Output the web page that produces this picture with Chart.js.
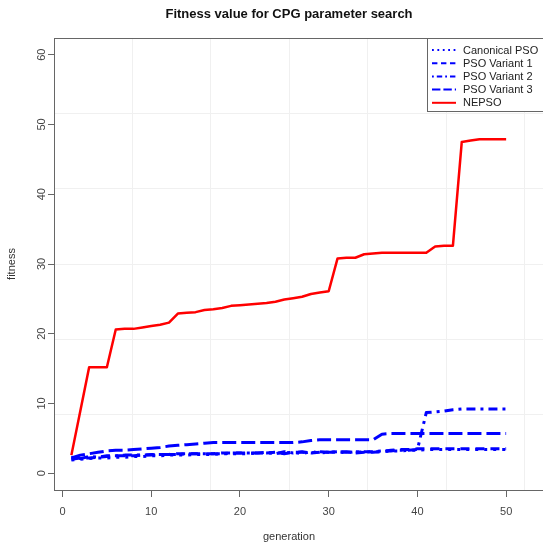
<!DOCTYPE html>
<html>
<head>
<meta charset="utf-8">
<script src="https://cdn.jsdelivr.net/npm/chart.js@4.4.1/dist/chart.umd.min.js"></script>
<style>
  html, body { margin: 0; padding: 0; background: #fff; overflow: hidden; }
  #wrap { width: 578px; height: 544px; }
</style>
</head>
<body>
<div id="wrap"><canvas id="fitnessChart" width="578" height="544"></canvas></div>
<script>
// generations on the x axis
var generation = [1,2,3,4,5,6,7,8,9,10,11,12,13,14,15,16,17,18,19,20,
  21,22,23,24,25,26,27,28,29,30,31,32,33,34,35,36,37,38,39,40,
  41,42,43,44,45,46,47,48,49,50];

// best fitness per generation
var canonicalPSO = [1.9,2.0,2.1,2.2,2.2,2.3,2.3,2.4,2.4,2.5, 2.5,2.6,2.6,2.6,2.7,2.7,2.7,2.8,2.8,2.8,
  2.8,2.9,2.9,2.9,2.9,3.0,2.8,3.1,2.9,3.0, 3.1,2.9,3.1,3.0,3.1,3.1,3.2,3.2,3.3,3.3,
  3.4,3.4,3.4,3.4,3.4,3.4,3.4,3.4,3.4,3.4];
var psoVariant1 = [2.0,2.2,2.2,2.3,2.4,2.5,2.5,2.5,2.6,2.6, 2.7,2.7,2.8,2.8,2.8,2.8,2.8,2.9,2.9,2.9,
  2.9,2.9,2.9,3.0,2.8,3.0,3.0,2.9,3.0,3.0, 3.0,3.1,2.9,3.0,3.0,3.1,3.3,3.4,3.4,3.5,
  3.5,3.5,3.5,3.5,3.5,3.5,3.5,3.5,3.5,3.5];
var psoVariant2 = [2.3,2.1,2.4,2.3,2.5,2.5,2.6,2.6,2.6,2.7, 2.7,2.7,2.7,2.8,2.8,2.8,2.8,2.8,2.9,2.9,
  2.9,2.9,3.0,2.8,3.1,2.9,3.1,2.9,3.1,3.0, 3.1,3.0,3.1,3.1,3.1,3.2,3.2,3.3,3.3,3.4,
  8.7,8.8,8.9,9.1,9.2,9.2,9.2,9.2,9.2,9.2];
var psoVariant3 = [2.2,2.6,2.8,3.0,3.2,3.3,3.3,3.4,3.5,3.6, 3.7,3.9,4.0,4.1,4.2,4.3,4.4,4.4,4.4,4.4,
  4.4,4.4,4.4,4.4,4.4,4.4,4.5,4.7,4.8,4.8, 4.8,4.8,4.8,4.8,4.8,5.6,5.7,5.7,5.7,5.7,
  5.7,5.7,5.7,5.7,5.7,5.7,5.7,5.7,5.7,5.7];
var nepso = [2.6,8.9,15.2,15.2,15.2,20.6,20.7,20.7,20.9,21.1, 21.3,21.6,22.9,23.0,23.1,23.4,23.5,23.7,24.0,24.1,
  24.2,24.3,24.4,24.6,24.9,25.1,25.3,25.7,25.9,26.1, 30.8,30.9,30.9,31.4,31.5,31.6,31.6,31.6,31.6,31.6,
  31.6,32.5,32.6,32.6,47.5,47.7,47.9,47.9,47.9,47.9];

var yTicks = [0, 10, 20, 30, 40, 50, 60];
var xTicks = [0, 10, 20, 30, 40, 50];

var FONT = "'Liberation Sans', Arial, sans-serif";

function toPoints(values){
	var pts = [];
	for(var i=0; i<generation.length; ++i){
		pts.push({x: generation[i], y: values[i]});
	}
	return pts;
}

function series(label, values, color, width, dash){
	return {
		label: label,
		data: toPoints(values),
		borderColor: color,
		backgroundColor: color,
		borderWidth: width,
		borderDash: dash,
		borderCapStyle: 'butt',
		borderJoinStyle: 'round',
		pointRadius: 0,
		tension: 0,
		fill: false
	};
}

// box round the plot, R-style legend, x axis label
var rDecor = {
	id: 'rDecor',
	beforeDatasetsDraw: function(chart){
		var ctx = chart.ctx, a = chart.chartArea;
		ctx.save();
		ctx.strokeStyle = '#666';
		ctx.lineWidth = 1;
		ctx.strokeRect(a.left + 0.5, a.top + 0.5, a.right - a.left, a.bottom - a.top);
		ctx.restore();
	},
	afterDraw: function(chart){
		var ctx = chart.ctx, a = chart.chartArea;
		ctx.save();
		// legend box (top right, running off the picture like the original)
		var bx = 427, by = a.top, bw = 200, bh = 73;
		ctx.fillStyle = '#fff';
		ctx.fillRect(bx, by, bw, bh);
		ctx.strokeStyle = '#666';
		ctx.lineWidth = 1;
		ctx.strokeRect(bx + 0.5, by + 0.5, bw, bh);
		ctx.font = '11px ' + FONT;
		ctx.textBaseline = 'middle';
		ctx.textAlign = 'left';
		chart.data.datasets.forEach(function(ds, i){
			var y = by + 12 + i * 13.2;
			ctx.beginPath();
			ctx.strokeStyle = ds.borderColor;
			ctx.lineWidth = 2;
			ctx.setLineDash(ds.borderDash.map(function(d){ return d * 0.6; }));
			ctx.moveTo(432, y);
			ctx.lineTo(456, y);
			ctx.stroke();
			ctx.setLineDash([]);
			ctx.fillStyle = '#222';
			ctx.fillText(ds.label, 463, y + 0.5);
		});
		// x axis label, centred like R does on the plot region
		ctx.fillStyle = '#333';
		ctx.textAlign = 'center';
		ctx.fillText('generation', 289, 537);
		ctx.restore();
	}
};

var chart = new Chart(document.getElementById('fitnessChart'), {
	type: 'line',
	data: {
		datasets: [
			series('Canonical PSO', canonicalPSO, '#0000ff', 3, [3, 6]),
			series('PSO Variant 1', psoVariant1, '#0000ff', 3, [9, 6]),
			series('PSO Variant 2', psoVariant2, '#0000ff', 3, [3, 5, 9, 5]),
			series('PSO Variant 3', psoVariant3, '#0000ff', 3, [14, 5]),
			series('NEPSO', nepso, '#ff0000', 2.5, [])
		]
	},
	plugins: [rDecor],
	options: {
		responsive: false,
		animation: false,
		layout: { padding: 0 },
		plugins: {
			legend: { display: false },
			tooltip: { enabled: false },
			title: {
				display: true,
				text: 'Fitness value for CPG parameter search',
				color: '#111',
				font: { family: FONT, size: 13, weight: 'bold', lineHeight: 1.2 },
				padding: { top: 7, bottom: 15.4 }
			}
		},
		scales: {
			x: {
				type: 'linear',
				position: 'bottom',
				min: -0.96,
				max: 58.1,
				afterFit: function(s){ s.height = 54; },
				afterBuildTicks: function(s){ s.ticks = xTicks.map(function(v){ return {value: v}; }); },
				grid: { drawOnChartArea: false, drawTicks: true, tickLength: 7, color: '#666' },
				border: { display: true, color: '#666' },
				ticks: { color: '#444', padding: 8, maxRotation: 0, font: { family: FONT, size: 11 } }
			},
			y: {
				type: 'linear',
				position: 'left',
				min: -2.4,
				max: 62.4,
				afterFit: function(s){ s.width = 54; },
				afterBuildTicks: function(s){ s.ticks = yTicks.map(function(v){ return {value: v}; }); },
				grid: { drawOnChartArea: false, drawTicks: true, tickLength: 6, color: '#666' },
				border: { display: true, color: '#666' },
				ticks: { color: '#444', padding: 0, minRotation: 90, maxRotation: 90, crossAlign: 'center',
					font: { family: FONT, size: 11 } },
				title: { display: true, text: 'fitness', color: '#333', padding: { top: 5, bottom: 0 },
					font: { family: FONT, size: 11 } }
			},
			// faint background grid of the original, which does not follow the ticks
			gx: {
				type: 'linear',
				position: 'bottom',
				min: -78,
				max: 446,
				afterFit: function(s){ s.height = 0; },
				grid: { color: '#f0f0f0', drawTicks: false },
				border: { display: false },
				ticks: { display: false, stepSize: 78.5, includeBounds: false }
			},
			gy: {
				type: 'linear',
				position: 'left',
				min: -75,
				max: 377,
				afterFit: function(s){ s.width = 0; },
				grid: { color: '#f0f0f0', drawTicks: false },
				border: { display: false },
				ticks: { display: false, stepSize: 76, includeBounds: false }
			}
		}
	}
});
</script>
</body>
</html>
